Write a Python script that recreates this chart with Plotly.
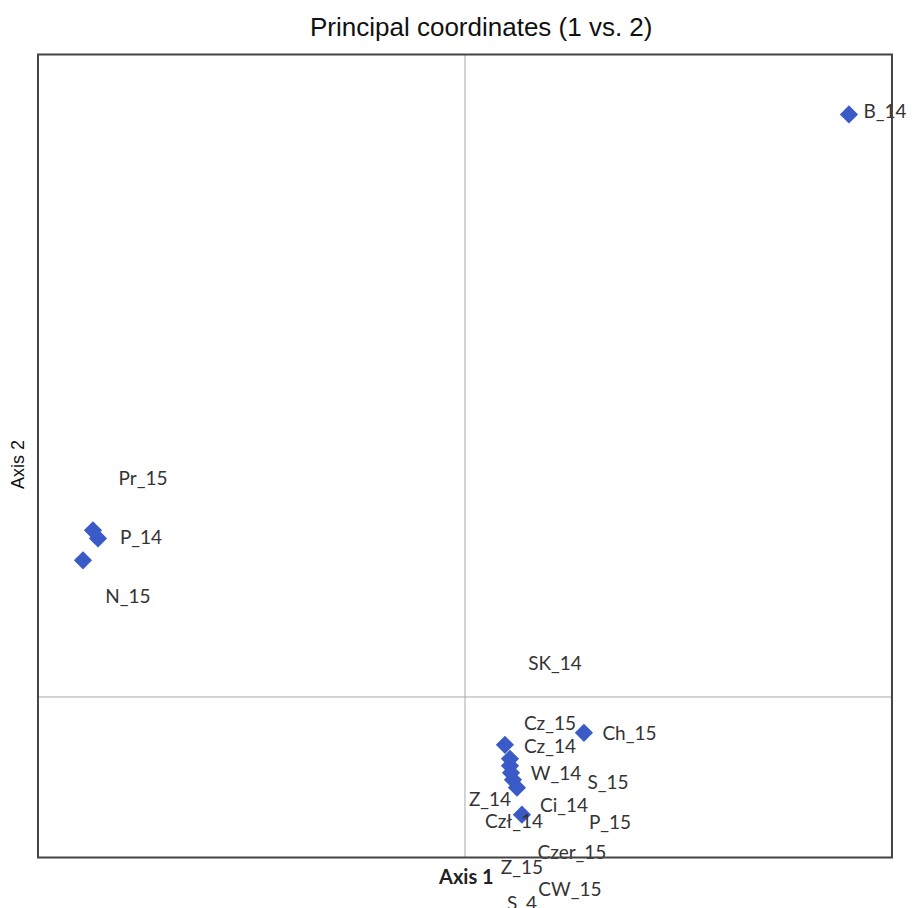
import plotly.graph_objects as go

# Marker coordinates (Axis 1, Axis 2)
pt_x = [0.4496, -0.4356, -0.4297, -0.4473, 0.1393, 0.0468, 0.0527, 0.0527, 0.0539, 0.0562, 0.0609, 0.0667]
pt_y = [0.7255, 0.2075, 0.1975, 0.1702, -0.0447, -0.0596, -0.0770, -0.0857, -0.0944, -0.1031, -0.1130, -0.1466]

# Label names and positions
lab_names = ["B_14", "Pr_15", "P_14", "N_15", "SK_14", "Cz_15", "Cz_14", "Ch_15", "W_14", "S_15",
             "Z_14", "Ci_14", "Czł_14", "P_15", "Czer_15", "Z_15", "CW_15", "S_4"]
lab_x = [0.4918, -0.3770, -0.3794, -0.3946, 0.1054, 0.0995, 0.0995, 0.1926, 0.1066, 0.1675,
         0.0293, 0.1159, 0.0574, 0.1698, 0.1253, 0.0667, 0.1229, 0.0667]
lab_y = [0.7273, 0.2702, 0.1968, 0.1233, 0.0399, -0.0349, -0.0635, -0.0473, -0.0971, -0.1083,
         -0.1295, -0.1370, -0.1569, -0.1582, -0.1955, -0.2142, -0.2416, -0.2590]

# Frame of the coordinate box
box_x = [-0.5, 0.5]
box_y = [-0.2, 0.8]

fig = go.Figure()
fig.add_trace(go.Scatter(
    x=pt_x, y=pt_y, mode="markers",
    marker=dict(symbol="diamond", size=14, color="#3a5bc7", line=dict(width=0)),
    hoverinfo="skip",
))
fig.add_trace(go.Scatter(
    x=lab_x, y=lab_y, mode="text", text=lab_names,
    textfont=dict(family="Lato", size=19, color="#333333"),
    textposition="middle center", cliponaxis=False, hoverinfo="skip",
))

axis_common = dict(showgrid=False, showticklabels=False, ticks="", zeroline=False,
                   showline=False, fixedrange=True)

fig.update_layout(
    width=906, height=900,
    margin=dict(l=0, r=0, t=0, b=0),
    paper_bgcolor="white", plot_bgcolor="white",
    showlegend=False,
    xaxis=dict(range=[-0.5351, 0.5258], **axis_common),
    yaxis=dict(range=[-0.2628, 0.8580], **axis_common),
    shapes=[
        dict(type="line", xref="x", yref="y", x0=0, x1=0, y0=box_y[0], y1=box_y[1],
             line=dict(color="#ababab", width=1), layer="below"),
        dict(type="line", xref="x", yref="y", x0=box_x[0], x1=box_x[1], y0=0, y1=0,
             line=dict(color="#ababab", width=1), layer="below"),
        dict(type="rect", xref="x", yref="y", x0=box_x[0], x1=box_x[1], y0=box_y[0], y1=box_y[1],
             line=dict(color="#444444", width=2), layer="above"),
    ],
    annotations=[
        dict(text="Principal coordinates (1 vs. 2)", xref="paper", yref="paper",
             x=(481.5 - 8) / 906, y=(908 - 27) / 900, showarrow=False,
             xanchor="center", yanchor="middle",
             font=dict(family="Liberation Sans", size=26, color="#111111")),
        dict(text="<b>Axis 1</b>", xref="paper", yref="paper", x=(466 - 8) / 906,
             y=(908 - 876) / 900, showarrow=False, xanchor="center", yanchor="middle",
             font=dict(family="Lato", size=20, color="#222222")),
        dict(text="Axis 2", xref="paper", yref="paper", x=(18 - 8) / 906,
             y=(908 - 465) / 900, showarrow=False, textangle=-90,
             xanchor="center", yanchor="middle",
             font=dict(family="Liberation Sans", size=18, color="#111111")),
    ],
)

fig.write_html("out.html")
